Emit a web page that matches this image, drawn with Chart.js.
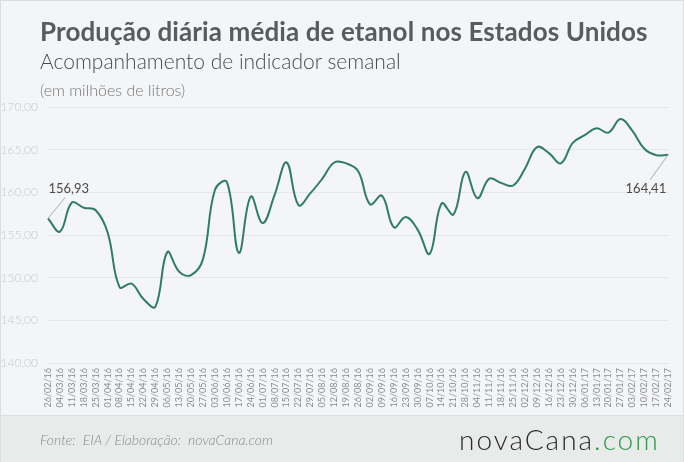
<!DOCTYPE html>
<html>
<head>
<meta charset="utf-8">
<script src="https://cdn.jsdelivr.net/npm/chart.js@4/dist/chart.umd.min.js"></script>
<style>
  html,body{margin:0;padding:0;}
  body{width:684px;height:462px;position:relative;overflow:hidden;background:#f4f5f7;font-family:Lato,"Open Sans",sans-serif;}
  #frame{position:absolute;left:0;top:0;width:682px;height:460px;border:1px solid #dcdddf;}
  #footer{position:absolute;left:1px;top:415px;width:682px;height:46px;background:#e9eaea;border-top:1px solid #dedfe0;}
  canvas{position:absolute;left:0;top:0;}
  .t{position:absolute;white-space:nowrap;}
  #title{left:40px;top:15px;font-size:26px;font-weight:700;color:#5a5b5d;letter-spacing:0.1px;}
  #sub{left:40px;top:48px;font-size:21px;font-weight:300;color:#4a4b4d;}
  #unit{left:40px;top:80px;font-size:16px;font-weight:300;color:#777;}
  #src{left:40px;top:431px;font-size:14px;font-weight:300;font-style:italic;color:#8a8b8d;}
  #logo{left:459px;top:422px;font-size:28px;font-weight:300;color:#2b2b2b;letter-spacing:2px;}
  #logo span{color:#2c9a4a;}
</style>
</head>
<body>
<div id="frame"></div>
<div id="footer"></div>
<canvas id="c" width="684" height="462"></canvas>
<div class="t" id="title">Produção diária média de etanol nos Estados Unidos</div>
<div class="t" id="sub">Acompanhamento de indicador semanal</div>
<div class="t" id="unit">(em milhões de litros)</div>
<div class="t" id="src">Fonte:&nbsp; EIA / Elaboração:&nbsp; novaCana.com</div>
<div class="t" id="logo">novaCana<span>.com</span></div>
<script>
const labels = ["26/02/16","04/03/16","11/03/16","18/03/16","25/03/16","01/04/16","08/04/16","15/04/16","22/04/16","29/04/16","06/05/16","13/05/16","20/05/16","27/05/16","03/06/16","10/06/16","17/06/16","24/06/16","01/07/16","08/07/16","15/07/16","22/07/16","29/07/16","05/08/16","12/08/16","19/08/16","26/08/16","02/09/16","09/09/16","16/09/16","23/09/16","30/09/16","07/10/16","14/10/16","21/10/16","28/10/16","04/11/16","11/11/16","18/11/16","25/11/16","02/12/16","09/12/16","16/12/16","23/12/16","30/12/16","06/01/17","13/01/17","20/01/17","27/01/17","03/02/17","10/02/17","17/02/17","24/02/17"];
const values = [156.93,155.4,158.8,158.2,157.9,155.3,148.9,149.3,147.5,146.6,153.0,150.7,150.3,152.2,160.3,161.2,152.9,159.5,156.4,159.7,163.5,158.5,159.9,161.6,163.5,163.4,162.5,158.6,159.6,155.9,157.1,155.6,152.8,158.7,157.4,162.4,159.3,161.6,161.1,160.8,162.8,165.3,164.6,163.4,165.8,166.7,167.5,167.0,168.6,167.2,165.1,164.35,164.41];
const yTicks = [140,145,150,155,160,165,170];

const fmt = v => v.toFixed(2).replace('.', ',');

const annot = {
  id: 'annot',
  afterDatasetsDraw(chart) {
    const ctx = chart.ctx, xs = chart.scales.x, ys = chart.scales.y;
    const n = values.length - 1;
    const p0 = {x: xs.getPixelForValue(0), y: ys.getPixelForValue(values[0])};
    const p1 = {x: xs.getPixelForValue(n), y: ys.getPixelForValue(values[n])};
    ctx.save();
    ctx.strokeStyle = '#a9aaac';
    ctx.lineWidth = 1;
    ctx.beginPath();
    ctx.moveTo(p0.x, p0.y); ctx.lineTo(p0.x + 17, p0.y - 21);
    ctx.moveTo(p1.x, p1.y); ctx.lineTo(p1.x - 18, p1.y + 25);
    ctx.stroke();
    ctx.fillStyle = '#4a4a4a';
    ctx.font = '400 13px Lato, sans-serif';
    ctx.textBaseline = 'middle';
    ctx.textAlign = 'left';
    ctx.fillText(fmt(values[0]), p0.x + 0.5, p0.y - 30);
    ctx.textAlign = 'right';
    ctx.fillText(fmt(values[n]), p1.x - 2, p1.y + 34);
    ctx.restore();
  }
};

new Chart(document.getElementById('c'), {
  type: 'line',
  data: {
    labels: labels,
    datasets: [{
      data: values,
      borderColor: '#2f7d66',
      borderWidth: 2,
      pointRadius: 0,
      tension: 0.4,
      fill: false
    }]
  },
  options: {
    responsive: false,
    animation: false,
    events: [],
    layout: {padding: {left: 0, right: 12, top: 107, bottom: 0}},
    plugins: {legend: {display: false}, tooltip: {enabled: false}},
    scales: {
      x: {
        offset: false,
        grid: {display: false, drawTicks: false},
        border: {display: false},
        afterFit(s) { s.height = 99; },
        ticks: {
          autoSkip: false, maxRotation: 90, minRotation: 90, padding: 5,
          color: '#8a8b8d', font: {family: 'Lato, sans-serif', size: 9}
        }
      },
      y: {
        min: 140, max: 170,
        afterFit(s) { s.width = 48; },
        afterBuildTicks(s) { s.ticks = yTicks.map(v => ({value: v})); },
        grid: {color: '#e5e6e9', lineWidth: 1, drawTicks: false},
        border: {display: false},
        ticks: {
          padding: 10, color: '#c8cacd',
          font: {family: 'Lato, sans-serif', size: 12, weight: 300},
          callback: v => fmt(v)
        }
      }
    }
  },
  plugins: [annot]
});
</script>
</body>
</html>
